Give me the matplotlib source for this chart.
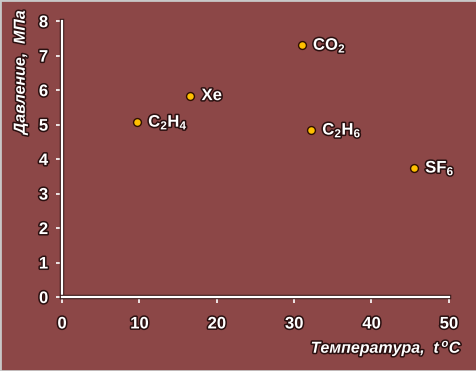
import matplotlib.pyplot as plt
import matplotlib.patheffects as pe

gases = ["CO$_\\mathregular{2}$", "Xe", "C$_\\mathregular{2}$H$_\\mathregular{4}$",
         "C$_\\mathregular{2}$H$_\\mathregular{6}$", "SF$_\\mathregular{6}$"]
temp_c = [31.0, 16.6, 9.7, 32.2, 45.5]
press_mpa = [7.3, 5.84, 5.07, 4.84, 3.74]

x_ticks = [0, 10, 20, 30, 40, 50]
y_ticks = [0, 1, 2, 3, 4, 5, 6, 7, 8]

BG = "#8c4747"
outline = [pe.withStroke(linewidth=2.2, foreground="#2a1010")]

plt.rcParams["font.family"] = ["Liberation Sans", "DejaVu Sans"]

fig = plt.figure(figsize=(4.77, 3.71), dpi=100, facecolor=BG)
fig.patches.append(plt.Rectangle((0, 0), 1, 1, transform=fig.transFigure,
                                 fill=False, edgecolor="#c8c8c8", lw=2))
ax = fig.add_axes([0.130, 0.1995, 0.811, 0.7435])
ax.set_facecolor(BG)

ax.scatter(temp_c, press_mpa, s=32, color="#ffc000", edgecolor="#301000",
           linewidth=1, zorder=3)
for name, x, y in zip(gases, temp_c, press_mpa):
    ax.annotate(name, (x, y), xytext=(8, 0), textcoords="offset points",
                va="center", ha="left", color="white", fontsize=12,
                fontweight="bold", path_effects=outline)

ax.set_xlim(0, 50)
ax.set_ylim(0, 8)
ax.set_xticks(x_ticks)
ax.set_yticks(y_ticks)

for side in ("top", "right"):
    ax.spines[side].set_visible(False)
for side in ("left", "bottom"):
    ax.spines[side].set_color("white")
    ax.spines[side].set_linewidth(1.6)
    ax.spines[side].set_path_effects([pe.withStroke(linewidth=3.2, foreground="#3a1a1a")])

ax.tick_params(colors="white", length=4, width=1.2, labelsize=12)
ax.tick_params(axis="x", pad=10)
ax.tick_params(axis="y", pad=6)
for lbl in ax.get_xticklabels() + ax.get_yticklabels():
    lbl.set_fontweight("bold")
    lbl.set_path_effects(outline)

ax.set_xlabel("Температура,  $\\mathregular{t\\,^{o}C}$", color="white",
              fontsize=11.5, fontweight="bold", fontstyle="italic",
              path_effects=outline, ha="right", va="center")
ax.xaxis.set_label_coords(1.036, -0.185)
ax.set_ylabel("Давление,  МПа", color="white", fontsize=11.5,
              fontweight="bold", fontstyle="italic", path_effects=outline,
              ha="right", va="center")
ax.yaxis.set_label_coords(-0.108, 1.04)

fig.savefig("out.png", dpi=100, facecolor=BG)
